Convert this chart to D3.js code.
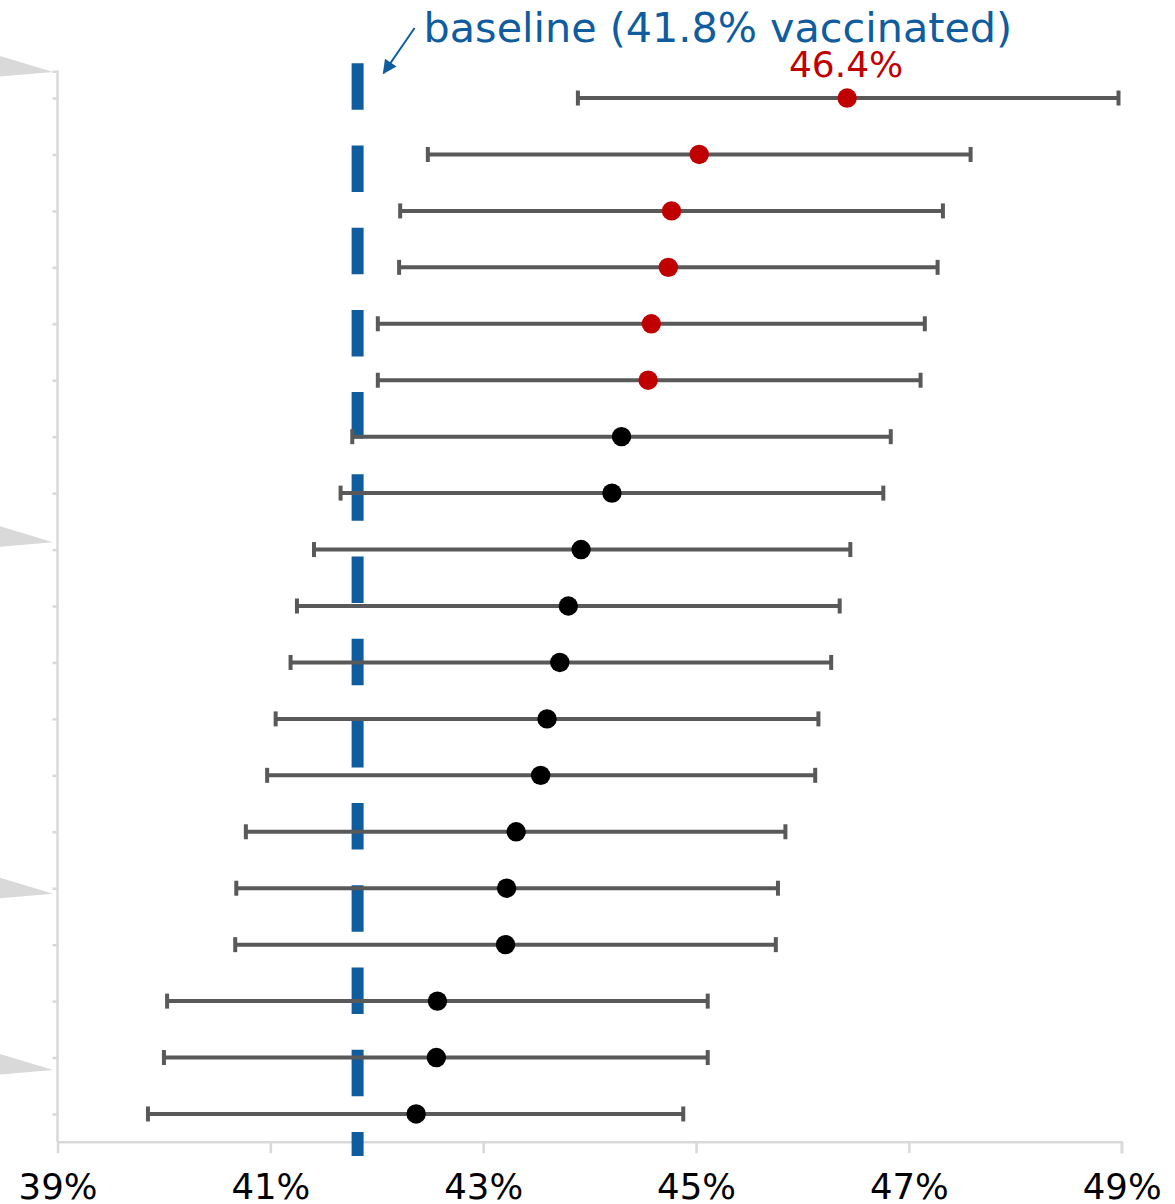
<!DOCTYPE html>
<html>
<head>
<meta charset="utf-8">
<script src="https://cdn.jsdelivr.net/npm/d3@7/dist/d3.min.js"></script>
<style>
  html, body { margin: 0; padding: 0; background: #ffffff; }
  svg { display: block; }
  text { font-family: "DejaVu Sans", Verdana, sans-serif; }
</style>
</head>
<body>
<svg id="chart" width="1175" height="1204"></svg>
<script>
// ---- data ----
const categories = ["r1","r2","r3","r4","r5","r6","r7","r8","r9","r10","r11","r12","r13","r14","r15","r16","r17","r18","r19"];
const means = [46.42, 45.03, 44.77, 44.74, 44.58, 44.55, 44.30, 44.21, 43.92, 43.80, 43.72, 43.60, 43.54, 43.31, 43.22, 43.21, 42.57, 42.56, 42.37];
const lows  = [43.89, 42.48, 42.22, 42.21, 42.01, 42.01, 41.77, 41.66, 41.41, 41.25, 41.19, 41.05, 40.97, 40.77, 40.68, 40.67, 40.03, 40.00, 39.85];
const highs = [48.97, 47.58, 47.32, 47.27, 47.15, 47.11, 46.83, 46.76, 46.45, 46.35, 46.27, 46.15, 46.12, 45.84, 45.77, 45.75, 45.11, 45.11, 44.88];
const baseline = 41.82;
const baselineLabel = "baseline (41.8% vaccinated)";
const xTicks = [39, 41, 43, 45, 47, 49];
const xTickLabels = ["39%", "41%", "43%", "45%", "47%", "49%"];
const wedgeRows = [-0.46, 7.87, 14.10, 17.22];

(function () {
const rows = categories.map((c, i) => ({ c, mean: means[i], low: lows[i], high: highs[i] }));

// ---- layout ----
const svg = d3.select("#chart");
const colors = { bar: "#595959", sig: "#c00000", dot: "#000000", base: "#0f5c9e", axis: "#d9d9d9" };

const x = d3.scaleLinear().domain([39, 49]).range([57.5, 1121.7]);
const y = d3.scalePoint().domain(categories).range([69.8, 1142.2]).padding(0.5);
const yRow = d3.scaleLinear().domain([0, categories.length - 1]).range([y(categories[0]), y(categories[categories.length - 1])]);
const plotTop = 69.8, plotBottom = 1142.2;

// left-side gray wedges
svg.append("g").selectAll("path").data(wedgeRows).join("path")
  .attr("d", r => { const t = yRow(r); return `M0,${t - 16} L${x(39) - 4.5},${t} L0,${t + 4.5} Z`; })
  .attr("fill", colors.axis);

// left axis
const yAxis = d3.axisLeft(y).tickSize(5).tickFormat("");
const gy = svg.append("g").attr("transform", `translate(${x(39)},0)`).call(yAxis);
gy.select(".domain").attr("stroke", colors.axis).attr("stroke-width", 2.5).attr("d", `M-5,${plotTop + 2}H0V${plotBottom}`);
gy.selectAll(".tick line").attr("stroke", colors.axis).attr("stroke-width", 2.5);

// bottom axis
const xAxis = d3.axisBottom(x).tickValues(xTicks).tickSize(11).tickPadding(21)
  .tickFormat((d, i) => xTickLabels[i]);
const gx = svg.append("g").attr("transform", `translate(0,${plotBottom})`).call(xAxis);
gx.select(".domain").attr("stroke", colors.axis).attr("stroke-width", 2.5).attr("d", `M${x(39)},0H${x(49)}V11`);
gx.selectAll(".tick line").attr("stroke", colors.axis).attr("stroke-width", 2.5);
gx.selectAll(".tick text").attr("fill", "#000").attr("font-size", 35.5)
  .attr("font-family", "'DejaVu Sans', Verdana, sans-serif");

// baseline dashed line
svg.append("line")
  .attr("x1", x(baseline)).attr("x2", x(baseline))
  .attr("y1", 63.3).attr("y2", 1156)
  .attr("stroke", colors.base).attr("stroke-width", 12)
  .attr("stroke-dasharray", "46.5 35.7");

// error bars
const eb = svg.append("g").selectAll("g").data(rows).join("g");
eb.append("line")
  .attr("x1", d => x(d.low)).attr("x2", d => x(d.high))
  .attr("y1", d => y(d.c)).attr("y2", d => y(d.c))
  .attr("stroke", colors.bar).attr("stroke-width", 4);
eb.append("line")
  .attr("x1", d => x(d.low)).attr("x2", d => x(d.low))
  .attr("y1", d => y(d.c) - 7.5).attr("y2", d => y(d.c) + 7.5)
  .attr("stroke", colors.bar).attr("stroke-width", 4);
eb.append("line")
  .attr("x1", d => x(d.high)).attr("x2", d => x(d.high))
  .attr("y1", d => y(d.c) - 7.5).attr("y2", d => y(d.c) + 7.5)
  .attr("stroke", colors.bar).attr("stroke-width", 4);

// dots
eb.append("circle")
  .attr("cx", d => x(d.mean)).attr("cy", d => y(d.c)).attr("r", 9.7)
  .attr("fill", d => d.low > baseline ? colors.sig : colors.dot);

// label for the top value
const first = rows[0];
svg.append("text")
  .attr("x", x(first.mean) - 1).attr("y", y(first.c) - 21)
  .attr("text-anchor", "middle").attr("font-size", 36).attr("fill", colors.sig)
  .text(d3.format(".1f")(first.mean) + "%");

// baseline annotation with arrow
svg.append("defs").append("marker")
  .attr("id", "arrow").attr("viewBox", "0 0 10 10").attr("refX", 9).attr("refY", 5)
  .attr("markerWidth", 16).attr("markerHeight", 14).attr("markerUnits", "userSpaceOnUse")
  .attr("orient", "auto")
  .append("path").attr("d", "M0,0 L10,5 L0,10 Z").attr("fill", colors.base);
svg.append("line")
  .attr("x1", x(baseline) + 57).attr("y1", 28)
  .attr("x2", x(baseline) + 26).attr("y2", 73)
  .attr("stroke", colors.base).attr("stroke-width", 2)
  .attr("marker-end", "url(#arrow)");
svg.append("text")
  .attr("x", x(baseline) + 66).attr("y", 42)
  .attr("font-size", 41.3).attr("fill", colors.base)
  .text(baselineLabel);
})();
</script>
</body>
</html>
